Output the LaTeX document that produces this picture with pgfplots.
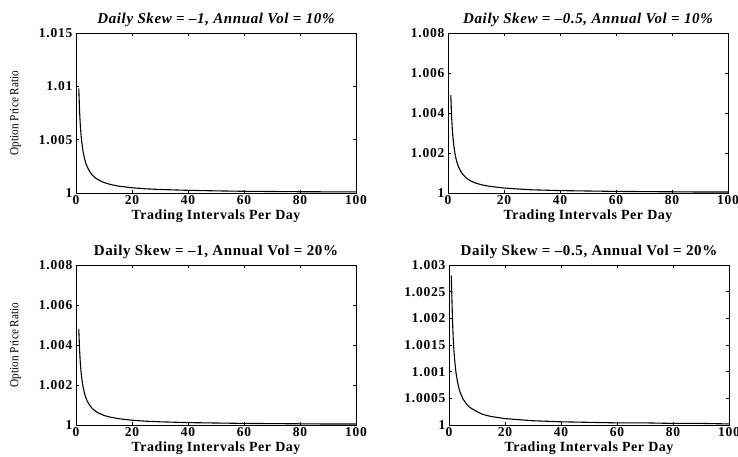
\documentclass[border=0pt]{standalone}
\usepackage{pgfplots}
\pgfplotsset{compat=1.18}
\usepackage{fontspec}
\setmainfont{Liberation Serif}
\newfontfamily\tickfont[LetterSpace=6]{Liberation Serif}
\newfontfamily\labfont[LetterSpace=4]{Liberation Serif}
\pgfplotsset{
  panel/.style={
    scale only axis, width=280pt, height=160pt,
    xmin=0, xmax=100, xtick={0,20,40,60,80,100},
    xticklabels={0,20,40,60,80,100},
    tick align=inside, major tick length=3pt,
    tick style={black, line width=0.5pt},
    axis line style={line width=0.8pt},
    tick label style={font=\fontsize{13.5}{14}\tickfont\bfseries},
    xticklabel style={yshift=1pt},
    xlabel={Trading Intervals Per Day},
    xlabel style={font=\fontsize{14}{15}\labfont\bfseries, yshift=1.5pt},
    title style={font=\fontsize{15}{16}\labfont\bfseries, yshift=-3pt},
    ylabel style={font=\fontsize{12.5}{13}\selectfont, xscale=0.9, yshift=11pt},
    clip=true,
  }
}
\begin{document}
\begin{tikzpicture}
\path[use as bounding box] (0pt,0pt) rectangle (738pt,456pt);
% top left
\begin{axis}[panel, at={(76pt,263pt)}, anchor=south west,
  ymin=1, ymax=1.015, ytick={1,1.005,1.01,1.015},
  yticklabels={1,1.005,1.01,1.015},
  ylabel={Option Price Ratio},
  title={\itshape Daily Skew = \textendash1, Annual Vol = 10\%}]
\addplot[black, no marks, line width=1.1pt] coordinates {(1,1.0098)(1.25,1.00784)(1.5,1.00653)(1.75,1.0056)(2,1.0049)(2.5,1.00392)(3,1.00327)(3.5,1.0028)(4,1.00245)(5,1.00196)(6,1.00163)(7,1.0014)(8,1.00123)(10,1.00098)(12,1.00082)(15,1.00065)(20,1.00049)(25,1.00039)(30,1.00033)(40,1.00025)(50,1.0002)(60,1.00016)(70,1.00014)(80,1.00012)(90,1.00011)(100,1.0001)};
\end{axis}
% top right
\begin{axis}[panel, at={(448pt,263pt)}, anchor=south west,
  ymin=1, ymax=1.008, ytick={1,1.002,1.004,1.006,1.008},
  yticklabels={1,1.002,1.004,1.006,1.008},
  title={\itshape Daily Skew = \textendash0.5, Annual Vol = 10\%}]
\addplot[black, no marks, line width=1.1pt] coordinates {(1,1.0049)(1.25,1.00392)(1.5,1.00327)(1.75,1.0028)(2,1.00245)(2.5,1.00196)(3,1.00163)(3.5,1.0014)(4,1.00123)(5,1.00098)(6,1.00082)(7,1.0007)(8,1.00061)(10,1.00049)(12,1.00041)(15,1.00033)(20,1.00025)(25,1.0002)(30,1.00016)(40,1.00012)(50,1.0001)(60,1.00008)(70,1.00007)(80,1.00006)(90,1.00005)(100,1.00005)};
\end{axis}
% bottom left
\begin{axis}[panel, at={(76pt,31pt)}, anchor=south west,
  ymin=1, ymax=1.008, ytick={1,1.002,1.004,1.006,1.008},
  yticklabels={1,1.002,1.004,1.006,1.008},
  ylabel={Option Price Ratio},
  title={Daily Skew = \textendash1, Annual Vol = 20\%}]
\addplot[black, no marks, line width=1.1pt] coordinates {(1,1.0048)(1.25,1.00384)(1.5,1.0032)(1.75,1.00274)(2,1.0024)(2.5,1.00192)(3,1.0016)(3.5,1.00137)(4,1.0012)(5,1.00096)(6,1.0008)(7,1.00069)(8,1.0006)(10,1.00048)(12,1.0004)(15,1.00032)(20,1.00024)(25,1.00019)(30,1.00016)(40,1.00012)(50,1.0001)(60,1.00008)(70,1.00007)(80,1.00006)(90,1.00005)(100,1.00005)};
\end{axis}
% bottom right
\begin{axis}[panel, at={(449pt,31pt)}, anchor=south west,
  ymin=1, ymax=1.003, ytick={1,1.0005,1.001,1.0015,1.002,1.0025,1.003},
  yticklabels={1,1.0005,1.001,1.0015,1.002,1.0025,1.003},
  title={Daily Skew = \textendash0.5, Annual Vol = 20\%}]
\addplot[black, no marks, line width=1.1pt] coordinates {(0.8,1.0028)(1,1.00245)(1.25,1.00196)(1.5,1.00163)(1.75,1.0014)(2,1.00123)(2.5,1.00098)(3,1.00082)(3.5,1.0007)(4,1.00061)(5,1.00049)(6,1.00041)(7,1.00035)(8,1.00031)(10,1.00025)(12,1.0002)(15,1.00016)(20,1.00012)(25,1.0001)(30,1.00008)(40,1.00006)(50,1.00005)(60,1.00004)(70,1.00004)(80,1.00003)(90,1.00003)(100,1.00002)};
\end{axis}
\end{tikzpicture}
\end{document}
